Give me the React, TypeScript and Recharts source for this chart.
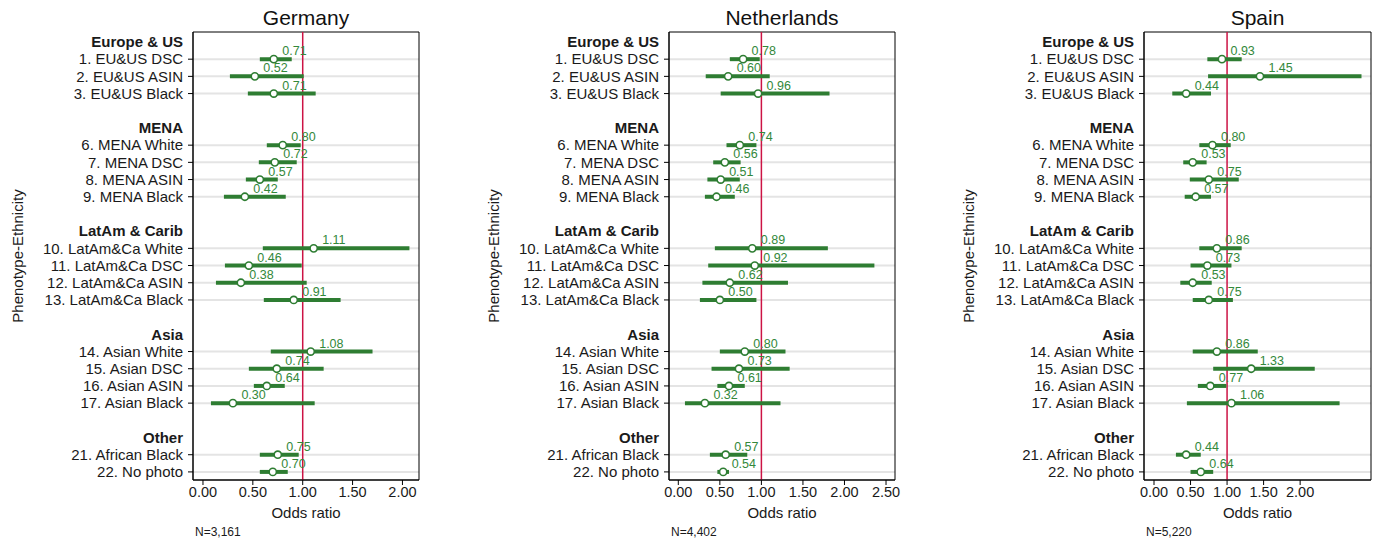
import React from 'react';
import {
    ComposedChart,
    Scatter,
    ErrorBar,
    XAxis,
    YAxis,
    CartesianGrid,
    ReferenceLine,
    ReferenceArea,
} from 'recharts';

// categories
const groups = ['Europe & US', 'MENA', 'LatAm & Carib', 'Asia', 'Other'];
const groupItems = [
    ['1. EU&US DSC', '2. EU&US ASIN', '3. EU&US Black'],
    ['6. MENA White', '7. MENA DSC', '8. MENA ASIN', '9. MENA Black'],
    ['10. LatAm&Ca White', '11. LatAm&Ca DSC', '12. LatAm&Ca ASIN', '13. LatAm&Ca Black'],
    ['14. Asian White', '15. Asian DSC', '16. Asian ASIN', '17. Asian Black'],
    ['21. African Black', '22. No photo'],
];

// odds ratios and 95% CI, in item order
const deOr = [0.71, 0.52, 0.71, 0.80, 0.72, 0.57, 0.42, 1.11, 0.46, 0.38, 0.91, 1.08, 0.74, 0.64, 0.30, 0.75, 0.70];
const deLo = [0.57, 0.27, 0.45, 0.64, 0.56, 0.43, 0.21, 0.60, 0.22, 0.13, 0.61, 0.68, 0.46, 0.51, 0.08, 0.57, 0.57];
const deHi = [0.89, 1.01, 1.13, 0.98, 0.94, 0.75, 0.83, 2.07, 0.99, 1.04, 1.38, 1.70, 1.21, 0.82, 1.12, 0.96, 0.85];

const nlOr = [0.78, 0.60, 0.96, 0.74, 0.56, 0.51, 0.46, 0.89, 0.92, 0.62, 0.50, 0.80, 0.73, 0.61, 0.32, 0.57, 0.54];
const nlLo = [0.62, 0.33, 0.51, 0.58, 0.42, 0.35, 0.32, 0.44, 0.36, 0.29, 0.26, 0.50, 0.40, 0.47, 0.08, 0.38, 0.47];
const nlHi = [0.98, 1.10, 1.82, 0.94, 0.75, 0.74, 0.68, 1.80, 2.36, 1.32, 0.94, 1.29, 1.34, 0.80, 1.23, 0.83, 0.61];

const esOr = [0.93, 1.45, 0.44, 0.80, 0.53, 0.75, 0.57, 0.86, 0.73, 0.53, 0.75, 0.86, 1.33, 0.77, 1.06, 0.44, 0.64];
const esLo = [0.73, 0.74, 0.25, 0.62, 0.40, 0.49, 0.42, 0.62, 0.50, 0.36, 0.53, 0.53, 0.81, 0.60, 0.45, 0.30, 0.50];
const esHi = [1.20, 2.84, 0.78, 1.05, 0.72, 1.16, 0.78, 1.20, 1.06, 0.79, 1.08, 1.42, 2.20, 0.99, 2.54, 0.64, 0.81];

const GREEN = '#2e7d32';
const LABEL_GREEN = '#33883a';
const RED = '#cc1344';
const FONT = 'Arial, "Liberation Sans", sans-serif';

// slot layout: header, items, blank spacer between groups
type Row = { slot: number; text: string; header: boolean };
const rows: Row[] = [];
let s = 0;
groups.forEach((g, gi) => {
    rows.push({ slot: s++, text: g, header: true });
    groupItems[gi].forEach((t) => rows.push({ slot: s++, text: t, header: false }));
    s++;
});
const itemRows = rows.filter((r) => !r.header);
const allSlots = rows.map((r) => r.slot);
const itemSlots = itemRows.map((r) => r.slot);
const Y_DOMAIN: [number, number] = [-0.58, 25.47];

const panels = [
    { title: 'Germany', n: 'N=3,161', or: deOr, lo: deLo, hi: deHi, domain: [-0.1, 2.166], ticks: [0, 0.5, 1, 1.5, 2], chartLeft: 0, chartWidth: 440, plotLeft: 193, plotRight: 419 },
    { title: 'Netherlands', n: 'N=4,402', or: nlOr, lo: nlLo, hi: nlHi, domain: [-0.112, 2.608], ticks: [0, 0.5, 1, 1.5, 2, 2.5], chartLeft: 460, chartWidth: 450, plotLeft: 669, plotRight: 895 },
    { title: 'Spain', n: 'N=5,220', or: esOr, lo: esLo, hi: esHi, domain: [-0.137, 2.97], ticks: [0, 0.5, 1, 1.5, 2], chartLeft: 935, chartWidth: 440, plotLeft: 1144, plotRight: 1371 },
];

const PLOT_TOP = 32;
const PLOT_BOTTOM = 480;
const Y_AXIS_W = 180;
const X_AXIS_H = 40;

const YTick = (props: any) => {
    const { x, y, payload } = props;
    const row = rows.find((r) => r.slot === payload.value);
    if (!row) return null;
    return (
        <g>
            {!row.header && <line x1={x + 5} x2={x + 10} y1={y} y2={y} stroke="#000" strokeWidth={1} />}
            <text
                x={x}
                y={y}
                dy="0.355em"
                textAnchor="end"
                fontSize={15}
                fontWeight={row.header ? 'bold' : 'normal'}
                fill="#1a1a1a"
            >
                {row.text}
            </text>
        </g>
    );
};

const Marker = (props: any) => {
    const { cx, cy, payload } = props;
    return (
        <g>
            <circle cx={cx} cy={cy} r={3.6} fill="#fff" stroke={GREEN} strokeWidth={1.6} />
            <text x={cx + 8.5} y={cy - 4} fontSize={12.5} fill={LABEL_GREEN}>
                {payload.or.toFixed(2)}
            </text>
        </g>
    );
};

const Panel = ({ p }: { p: (typeof panels)[number] }) => {
    const data = itemRows.map((r, i) => ({
        slot: r.slot,
        or: p.or[i],
        err: [p.or[i] - p.lo[i], p.hi[i] - p.or[i]],
    }));
    const margin = {
        top: PLOT_TOP,
        bottom: 543 - PLOT_BOTTOM - X_AXIS_H,
        left: p.plotLeft - p.chartLeft - Y_AXIS_W,
        right: p.chartLeft + p.chartWidth - p.plotRight,
    };
    return (
        <>
            <div style={{ position: 'absolute', left: p.chartLeft, top: 0 }}>
                <ComposedChart width={p.chartWidth} height={543} margin={margin} data={data}>
                    <CartesianGrid
                        vertical={false}
                        horizontalValues={itemSlots}
                        stroke="#e4e4e4"
                        strokeWidth={2}
                    />
                    <XAxis
                        type="number"
                        dataKey="or"
                        domain={p.domain}
                        ticks={p.ticks}
                        allowDataOverflow
                        height={X_AXIS_H}
                        tickFormatter={(v: number) => v.toFixed(2)}
                        tick={{ fontSize: 14.5, fill: '#1a1a1a' }}
                        tickSize={5}
                        tickLine={{ stroke: '#000' }}
                        axisLine={{ stroke: '#000' }}
                        label={{ value: 'Odds ratio', position: 'insideBottom', offset: 2, fontSize: 15, fill: '#1a1a1a' }}
                    />
                    <YAxis
                        type="number"
                        dataKey="slot"
                        domain={Y_DOMAIN}
                        reversed
                        allowDataOverflow
                        ticks={allSlots}
                        interval={0}
                        width={Y_AXIS_W}
                        tickSize={5}
                        tickMargin={5}
                        tickLine={false}
                        axisLine={{ stroke: '#000' }}
                        tick={<YTick />}
                    />
                    <ReferenceArea
                        x1={p.domain[0]}
                        x2={p.domain[1]}
                        y1={Y_DOMAIN[0]}
                        y2={Y_DOMAIN[1]}
                        fill="none"
                        fillOpacity={0}
                        stroke="#000"
                        strokeWidth={1}
                        ifOverflow="visible"
                    />
                    <ReferenceLine x={1} stroke={RED} strokeWidth={1.5} />
                    <Scatter dataKey="or" shape={<Marker />} isAnimationActive={false}>
                        <ErrorBar dataKey="err" direction="x" width={0} strokeWidth={4} stroke={GREEN} />
                    </Scatter>
                </ComposedChart>
            </div>
            <div
                style={{
                    position: 'absolute',
                    left: p.plotLeft,
                    width: p.plotRight - p.plotLeft,
                    top: 5,
                    lineHeight: '26px',
                    fontSize: 21,
                    textAlign: 'center',
                    color: '#111',
                }}
            >
                {p.title}
            </div>
            <div
                style={{
                    position: 'absolute',
                    left: p.plotLeft - 175 - 150,
                    top: (PLOT_TOP + PLOT_BOTTOM) / 2 - 10,
                    width: 300,
                    height: 20,
                    lineHeight: '20px',
                    fontSize: 15,
                    textAlign: 'center',
                    transform: 'rotate(-90deg)',
                    color: '#1a1a1a',
                }}
            >
                Phenotype-Ethnicity
            </div>
            <div
                style={{
                    position: 'absolute',
                    left: p.plotLeft + 2,
                    top: 525,
                    lineHeight: '14px',
                    fontSize: 12,
                    color: '#1a1a1a',
                }}
            >
                {p.n}
            </div>
        </>
    );
};

export default function App() {
    return (
        <div
            style={{
                position: 'absolute',
                left: 0,
                top: 0,
                width: 1375,
                height: 543,
                background: '#fff',
                fontFamily: FONT,
                overflow: 'hidden',
            }}
        >
            {panels.map((p) => (
                <Panel key={p.title} p={p} />
            ))}
        </div>
    );
}
